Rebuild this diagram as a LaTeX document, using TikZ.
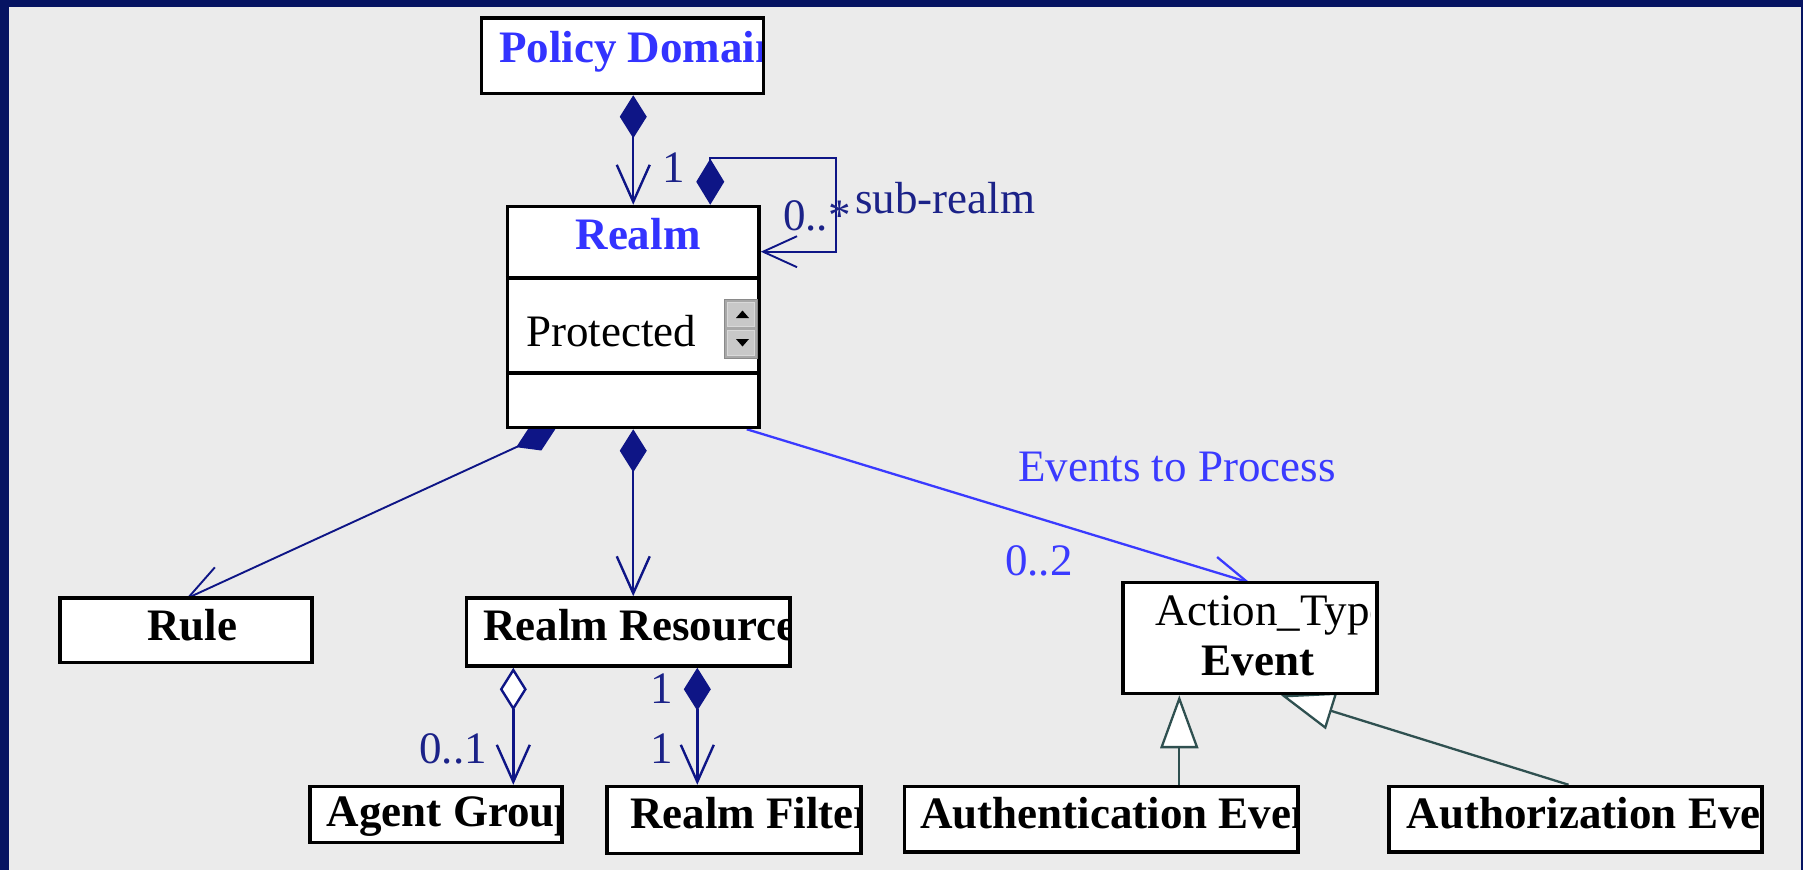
\documentclass[tikz,border=0pt]{standalone}
\usepackage{fontspec}
\setmainfont{Liberation Serif}
\usetikzlibrary{arrows.meta,calc}
\pgfdeclarelayer{back}
\pgfdeclarelayer{conn}
\pgfsetlayers{back,conn,main}
\definecolor{framecol}{HTML}{061462}
\definecolor{bggrey}{HTML}{EBEBEB}
\definecolor{navyline}{HTML}{0E1586}
\definecolor{navylabel}{HTML}{1B2288}
\definecolor{titleblue}{HTML}{3333FF}
\definecolor{evtblue}{HTML}{3A3AFF}
\definecolor{slate}{HTML}{2F5050}
\definecolor{sgray}{HTML}{A8A8A8}
\definecolor{sbtn}{HTML}{C8C8C8}
\definecolor{sedge}{HTML}{8A8A8A}
\begin{document}
\begin{tikzpicture}[x=1pt,y=-1pt,
  umlbox/.style={draw=black,line width=3.5pt,fill=white,inner sep=0pt},
  boxtxt/.style={inner sep=0pt,font=\fontsize{45}{54}\selectfont\bfseries,text=black},
  titletxt/.style={inner sep=0pt,font=\fontsize{45}{54}\selectfont\bfseries,text=titleblue},
  plaintxt/.style={inner sep=0pt,font=\fontsize{45}{54}\selectfont,text=black},
  lbl/.style={inner sep=0pt,font=\fontsize{45}{54}\selectfont,text=navylabel},
  evtlbl/.style={inner sep=0pt,font=\fontsize{45}{54}\selectfont,text=evtblue},
  comp/.style={draw=navyline,line width=2.4pt},
  compthin/.style={draw=navyline,line width=1.9pt},
  evtline/.style={draw=evtblue,line width=2.3pt},
  genline/.style={draw=slate,line width=2.3pt},
  fdiam/.tip={Diamond[length=43pt,width=27pt]},
  odiam/.tip={Diamond[open,fill=white,length=43pt,width=27pt]},
  barb/.tip={Straight Barb[length=37pt,width=33pt]},
  tri/.tip={Triangle[open,fill=white,length=53pt,width=38pt]}
]
\useasboundingbox (0,0) rectangle (1803,870);
\begin{pgfonlayer}{back}
  \fill[framecol] (0,0) rectangle (1803,870);
  \fill[bggrey] (9,7) rectangle (1801,870);
\end{pgfonlayer}

% boxes
\node[umlbox,minimum width=282pt,minimum height=75.5pt] (pd) at (622.5,55.75) {};
\node[umlbox,minimum width=251.5pt,minimum height=221pt] (realm) at (633.25,317) {};
\node[umlbox,minimum width=252pt,minimum height=64.5pt] (rule) at (186,630.25) {};
\node[umlbox,minimum width=323.5pt,minimum height=68pt] (rr) at (628.25,632) {};
\node[umlbox,minimum width=252pt,minimum height=56pt] (ag) at (436,814.5) {};
\node[umlbox,minimum width=254pt,minimum height=67pt] (rf) at (734,820) {};
\node[umlbox,minimum width=254pt,minimum height=111pt] (event) at (1250,638) {};
\node[umlbox,minimum width=393.5pt,minimum height=65.5pt] (authn) at (1101.25,819.25) {};
\node[umlbox,minimum width=373pt,minimum height=65.5pt] (authz) at (1575.5,819.25) {};

% realm compartments
\draw[line width=3.5pt] ($(realm.north west)!0.327!(realm.south west)$) -- ($(realm.north east)!0.327!(realm.south east)$);
\draw[line width=3.5pt] ($(realm.north west)!0.749!(realm.south west)$) -- ($(realm.north east)!0.749!(realm.south east)$);

% scroll widget
\draw[fill=sgray,draw=sedge,line width=1pt] (724.5,299) rectangle (757.5,358);
\draw[fill=sbtn,draw=white!85!black,line width=1pt] (727.5,302) rectangle (754.5,326.5);
\draw[fill=sbtn,draw=white!85!black,line width=1pt] (727.5,330.5) rectangle (754.5,355);
\fill[black] (736,318) -- (749,318) -- (742.5,310.5) -- cycle;
\fill[black] (736,339) -- (749,339) -- (742.5,346.5) -- cycle;

% texts
\begin{scope}
  \clip ([shift={(3.5pt,-3.5pt)}]pd.north west) rectangle ([shift={(-3.5pt,3.5pt)}]pd.south east);
  \node[titletxt,anchor=base west] (pd-t) at (499,62.3) {Policy Domain};
\end{scope}
\node[titletxt,anchor=base] (realm-t) at (638,249.3) {Realm};
\node[plaintxt,anchor=base west] (realm-a) at (526,346) {Protected};
\node[boxtxt,anchor=base] (rule-t) at (192,640.7) {Rule};
\begin{scope}
  \clip ([shift={(3.5pt,-3.5pt)}]rr.north west) rectangle ([shift={(-3.5pt,3.5pt)}]rr.south east);
  \node[boxtxt,anchor=base west] (rr-t) at (483.3,640) {Realm Resource};
\end{scope}
\begin{scope}
  \clip ([shift={(3.5pt,-3.5pt)}]ag.north west) rectangle ([shift={(-3.5pt,3.5pt)}]ag.south east);
  \node[boxtxt,anchor=base west] (ag-t) at (326.7,826.7) {Agent Group};
\end{scope}
\begin{scope}
  \clip ([shift={(3.5pt,-3.5pt)}]rf.north west) rectangle ([shift={(-3.5pt,3.5pt)}]rf.south east);
  \node[boxtxt,anchor=base west] (rf-t) at (630,828.3) {Realm Filter};
\end{scope}
\begin{scope}
  \clip ([shift={(3.5pt,-3.5pt)}]event.north west) rectangle ([shift={(-8.5pt,3.5pt)}]event.south east);
  \node[plaintxt,anchor=base west] (event-s) at (1155,625) {Action\_Type};
  \node[boxtxt,anchor=base] (event-t) at (1258,675) {Event};
\end{scope}
\begin{scope}
  \clip ([shift={(3.5pt,-3.5pt)}]authn.north west) rectangle ([shift={(-3.5pt,3.5pt)}]authn.south east);
  \node[boxtxt,anchor=base west] (authn-t) at (920,828.3) {Authentication Event};
\end{scope}
\begin{scope}
  \clip ([shift={(3.5pt,-3.5pt)}]authz.north west) rectangle ([shift={(-3.5pt,3.5pt)}]authz.south east);
  \node[boxtxt,anchor=base west] (authz-t) at (1406.7,828.3) {Authorization Event};
\end{scope}

% helper coordinates
\coordinate (ax) at (513.3,0);
\coordinate (fx) at (697.3,0);
\coordinate (gx) at (1179.3,0);

% connectors
\begin{pgfonlayer}{conn}
  \draw[comp,fdiam-barb] (pd.south -| realm.north) -- (realm.north);
  \draw[compthin,{Diamond[length=46pt,width=28pt]}-{Straight Barb[length=34pt,width=31pt]}]
    ([xshift=77pt]realm.north) -- ++(0,-47) -- ++(126,0) |- ([yshift=65.3pt]realm.east);
  \draw[compthin,fdiam-barb] ([xshift=-78pt]realm.south) -- ([yshift=-2.5pt]rule.north);
  \draw[comp,fdiam-barb] (realm.south) -- (realm.south |- rr.north);
  \draw[evtline,-{Straight Barb[length=36pt,width=30pt]}] ([xshift=-14pt]realm.south east) -- ([yshift=-2pt]event.north);
  \draw[comp,odiam-barb] (rr.south -| ax) -- (ag.north -| ax);
  \draw[comp,fdiam-barb] (rr.south -| fx) -- (rf.north -| fx);
  \draw[genline,-tri] (authn.north -| gx) -- (event.south -| gx);
  \draw[genline,-tri] ([xshift=-7pt]authz.north) -- ([xshift=31pt]event.south);
\end{pgfonlayer}

% labels
\node[lbl,anchor=base] (l-one) at (674,182) {1};
\node[lbl,anchor=base west] (l-many) at (783,230) {0..*};
\node[lbl,anchor=base west] (l-sub) at (855,213) {sub-realm};
\node[evtlbl,anchor=base west] (l-evt) at (1018,481.7) {Events to Process};
\node[evtlbl,anchor=base west] (l-02) at (1005,575) {0..2};
\node[lbl,anchor=base east] (l-01) at (487,763.3) {0..1};
\node[lbl,anchor=base] (l-rf1) at (661.7,703.3) {1};
\node[lbl,anchor=base] (l-rf2) at (661.7,763.3) {1};
\end{tikzpicture}
\end{document}
